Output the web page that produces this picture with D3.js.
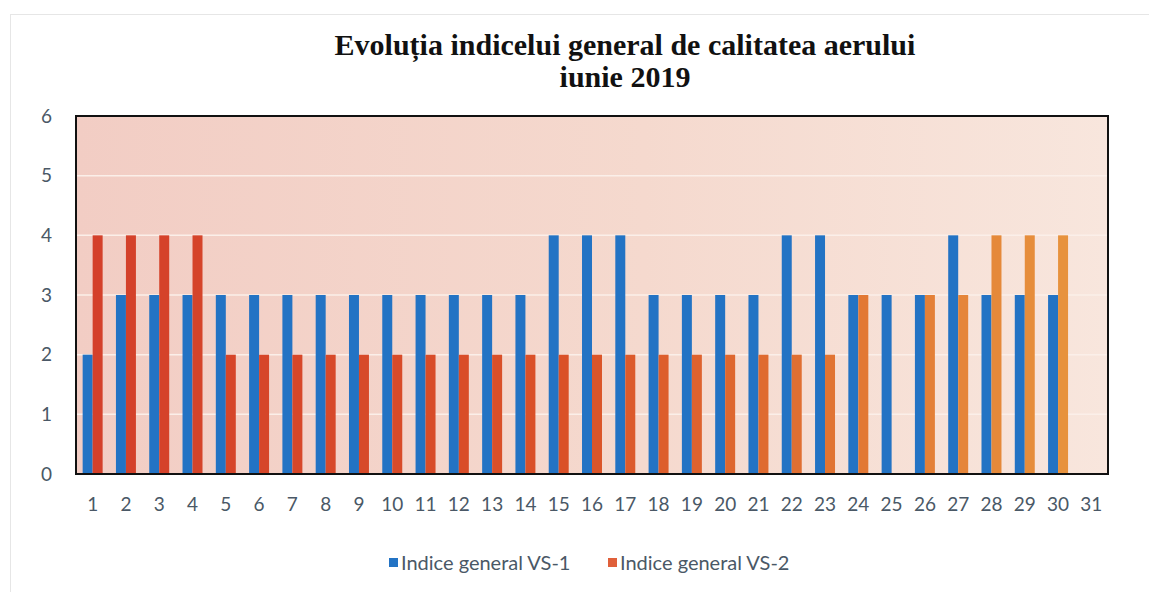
<!DOCTYPE html>
<html>
<head>
<meta charset="utf-8">
<script src="https://cdn.jsdelivr.net/npm/d3@7"></script>
<style>
  body { margin: 0; background: #fff; }
  #container { width: 1149px; height: 592px; }
</style>
</head>
<body>
<div id="container"></div>
<script>
// data
const days = d3.range(1, 32).map(String);
const vs1 = [2,3,3,3,3,3,3,3,3,3,3,3,3,3,4,4,4,3,3,3,3,4,4,3,3,3,4,3,3,3,null];
const vs2 = [4,4,4,4,2,2,2,2,2,2,2,2,2,2,2,2,2,2,2,2,2,2,2,3,null,3,3,4,4,4,null];
const seriesNames = ["Indice general VS-1", "Indice general VS-2"];
const yTicks = [0,1,2,3,4,5,6];

const w = 1149;
const h = 592;
const margin = {left: 76, right: 41, top: 116, bottom: 118};

const svg = d3.select("#container")
              .append("svg")
              .attr("width", w)
              .attr("height", h);

// outer frame from the scan
svg.append("rect")
   .attr("x", 10.5).attr("y", 14.5)
   .attr("width", w - 8).attr("height", h - 10)
   .attr("fill", "none")
   .attr("stroke", "#e6e6e6");

// scales
const xScale = d3.scaleBand()
                 .domain(days)
                 .range([margin.left, w - margin.right])
                 .paddingInner(0.4)
                 .paddingOuter(0.2);

const x1 = d3.scaleBand()
             .domain([0, 1])
             .range([0, xScale.bandwidth()]);

const yScale = d3.scaleLinear()
                 .domain([0, 6])
                 .range([h - margin.bottom, margin.top]);

// plot background
const defs = svg.append("defs");
const grad = defs.append("linearGradient").attr("id", "bg");
grad.append("stop").attr("offset", "0%").attr("stop-color", "#f2cdc4");
grad.append("stop").attr("offset", "55%").attr("stop-color", "#f5d9ce");
grad.append("stop").attr("offset", "100%").attr("stop-color", "#f8e6dd");

svg.append("rect")
   .attr("x", margin.left)
   .attr("y", margin.top)
   .attr("width", w - margin.left - margin.right)
   .attr("height", h - margin.top - margin.bottom)
   .attr("fill", "url(#bg)");

// gridlines
svg.append("g")
   .selectAll("line")
   .data(yTicks.slice(1, -1))
   .enter()
   .append("line")
   .attr("x1", margin.left)
   .attr("x2", w - margin.right)
   .attr("y1", (d) => yScale(d))
   .attr("y2", (d) => yScale(d))
   .attr("stroke", "#fbefe9")
   .attr("stroke-width", 1.5);

// axis base line
svg.append("line")
   .attr("x1", margin.left).attr("x2", w - margin.right)
   .attr("y1", yScale(0)).attr("y2", yScale(0))
   .attr("stroke", "#111").attr("stroke-width", 2);

// VS-2 colour drifts from red to orange in the scan
const vs2Color = d3.scaleLinear()
                   .domain([0, 14, 30])
                   .range(["#d4402a", "#da5128", "#e8963e"]);

const series = [vs1, vs2];
series.forEach(function(values, s){
    svg.append("g")
       .selectAll("rect")
       .data(values.map((v, i) => ({day: days[i], v: v, i: i})).filter((d) => d.v !== null))
       .enter()
       .append("rect")
       .attr("x", (d) => xScale(d.day) + x1(s))
       .attr("y", (d) => yScale(d.v))
       .attr("width", x1.bandwidth())
       .attr("height", (d) => yScale(0) - yScale(d.v))
       .attr("fill", (d) => s === 0 ? "#2373c4" : vs2Color(d.i));
});

// plot border
svg.append("rect")
   .attr("x", margin.left)
   .attr("y", margin.top)
   .attr("width", w - margin.left - margin.right)
   .attr("height", h - margin.top - margin.bottom)
   .attr("fill", "none")
   .attr("stroke", "#111")
   .attr("stroke-width", 2);

// axes
const xAxis = d3.axisBottom(xScale).tickSize(0).tickPadding(24);
const yAxis = d3.axisLeft(yScale).tickValues(yTicks).tickFormat(d3.format("d")).tickSize(0).tickPadding(24);

const gx = svg.append("g")
   .attr("transform", "translate(0, " + yScale(0) + ")")
   .call(xAxis);
const gy = svg.append("g")
   .attr("transform", "translate(" + margin.left + ", 0)")
   .call(yAxis);

[gx, gy].forEach(function(g){
    g.select(".domain").remove();
    g.selectAll("text")
     .style("font-family", "Lato, 'Open Sans', sans-serif")
     .style("font-size", "19px")
     .attr("fill", "#4a5866");
});

// title
const title = svg.append("text")
   .attr("text-anchor", "middle")
   .style("font-family", "'Liberation Serif', 'DejaVu Serif', serif")
   .style("font-weight", "bold")
   .style("font-size", "30px")
   .attr("fill", "#111");
title.append("tspan").attr("x", 625).attr("y", 55).text("Evoluția indicelui general de calitatea aerului");
title.append("tspan").attr("x", 625).attr("y", 87).text("iunie 2019");

// legend
const legendX = [389, 608];
const legend = svg.append("g")
   .selectAll("g")
   .data(seriesNames)
   .enter()
   .append("g")
   .attr("transform", (d, i) => "translate(" + legendX[i] + ", 563)");

legend.append("rect")
   .attr("x", 0).attr("y", -5)
   .attr("width", 9).attr("height", 9)
   .attr("fill", (d, i) => i === 0 ? "#2373c4" : "#e0603a");

legend.append("text")
   .attr("x", 12)
   .attr("y", 7)
   .style("font-family", "Lato, 'Open Sans', sans-serif")
   .style("font-size", "20px")
   .attr("fill", "#4a5866")
   .text((d) => d);
</script>
</body>
</html>
